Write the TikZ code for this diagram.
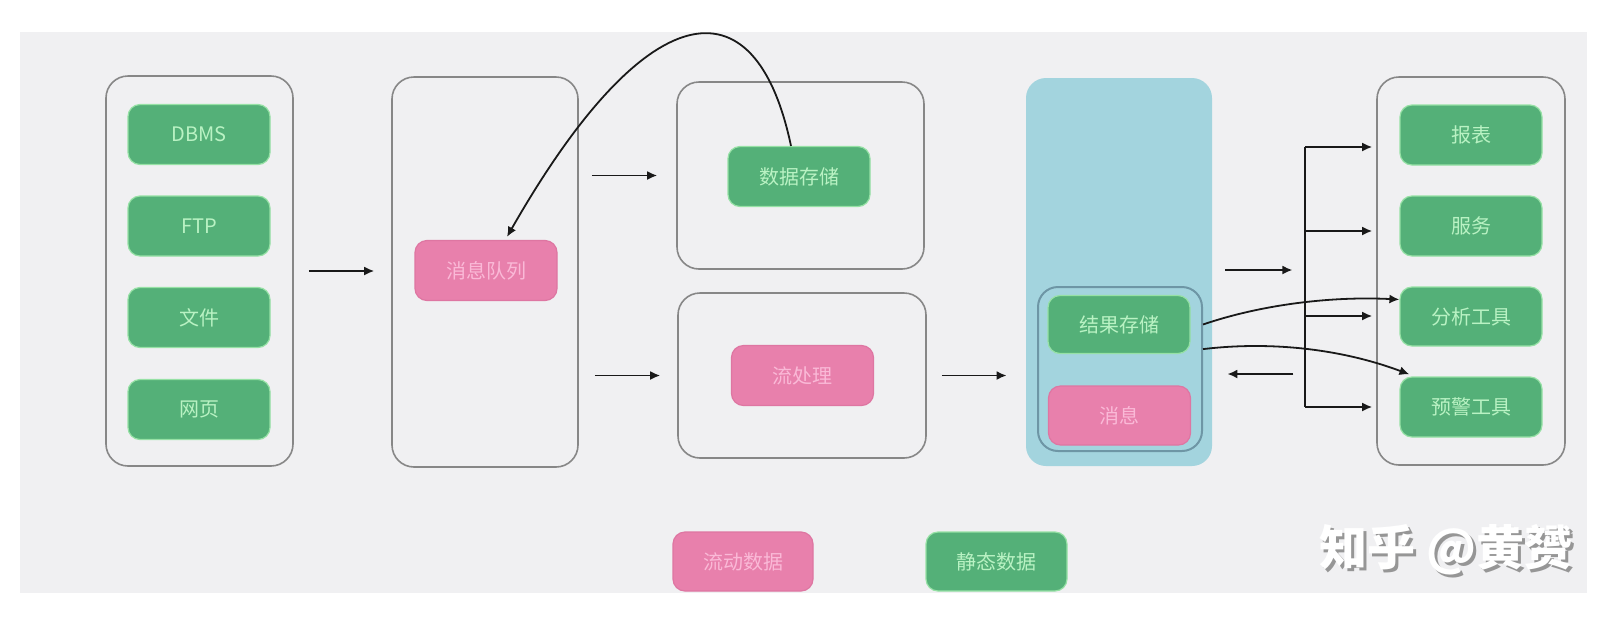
\documentclass[tikz,border=0pt]{standalone}
\usepackage{fontspec}
\setmainfont{Noto Sans CJK SC}
\usetikzlibrary{arrows.meta,calc}
\definecolor{bggray}{RGB}{240,240,242}
\definecolor{gfill}{RGB}{84,176,120}
\definecolor{gedge}{RGB}{150,225,165}
\definecolor{gtext}{RGB}{185,242,195}
\definecolor{pfill}{RGB}{232,128,172}
\definecolor{pedge}{RGB}{222,118,162}
\definecolor{ptext}{RGB}{250,185,215}
\definecolor{teal}{RGB}{163,212,222}
\definecolor{inedge}{RGB}{110,150,165}
\definecolor{cedge}{RGB}{135,135,135}
\definecolor{arrcol}{RGB}{25,25,25}
\definecolor{wmshadow}{RGB}{150,150,150}
\tikzset{
  cont/.style={draw=cedge, line width=0.8pt, rounded corners=11pt, inner sep=0pt},
  gbox/.style={fill=gfill, draw=gedge, line width=0.6pt, rounded corners=6pt,
    minimum width=71pt, minimum height=30pt, inner sep=0pt, text=gtext,
    font=\fontsize{10}{12}\selectfont},
  pbox/.style={gbox, fill=pfill, draw=pedge, text=ptext},
  arr/.style={draw=arrcol, line width=0.9pt, -{Latex[length=5pt,width=4.5pt]}},
  bus/.style={draw=arrcol, line width=0.9pt}
}
\begin{document}
\begin{tikzpicture}[x=0.5pt,y=-0.5pt]
\useasboundingbox (0,0) rectangle (1614,617);
\fill[white] (0,0) rectangle (1614,617);
\fill[bggray] (20,32) rectangle (1587,593);

% containers
\node[cont, minimum width=93.5pt, minimum height=195pt] (L) at (199.5,271) {};
\node[cont, minimum width=93pt, minimum height=195pt] (M) at (485,272) {};
\node[cont, minimum width=123.5pt, minimum height=93.5pt] (U) at (800.5,175.5) {};
\node[cont, minimum width=124pt, minimum height=82.5pt] (D) at (802,375.5) {};
\node[fill=teal, rounded corners=10pt, minimum width=93pt, minimum height=194pt, inner sep=0pt] (T) at (1119,272) {};
\node[draw=inedge, line width=1pt, rounded corners=10pt, minimum width=82pt, minimum height=82pt, inner sep=0pt] (I) at (1120,369) {};
\node[cont, minimum width=94pt, minimum height=194pt] (R) at (1471,271) {};

% sources
\node[gbox] (dbms) at (199,134.5) {DBMS};
\node[gbox] (ftp) at (199,226) {FTP};
\node[gbox] (file) at (199,317.5) {文件};
\node[gbox] (web) at (199,409.5) {网页};

% middle
\node[pbox] (mq) at (486,270.5) {消息队列};
\node[gbox] (ds) at (799,176.5) {数据存储};
\node[pbox] (sp) at (802.5,375.5) {流处理};
\node[gbox, minimum height=29pt] (res) at (1119,324.5) {结果存储};
\node[pbox, minimum height=29.5pt] (msg) at (1119.5,415.5) {消息};

% consumers
\node[gbox] (rep) at (1471,135) {报表};
\node[gbox] (svc) at (1471,226) {服务};
\node[gbox, minimum height=29.5pt] (ana) at (1471,316.5) {分析工具};
\node[gbox] (warn) at (1471,407) {预警工具};

% legend
\node[pbox, minimum width=70pt, minimum height=29.5pt] (lgp) at (743,561.5) {流动数据};
\node[gbox, minimum width=70.5pt, minimum height=29.5pt] (lgg) at (996.5,561.5) {静态数据};

% straight arrows
\draw[arr] ($(L.east)+(15,0)$) -- ($(M.west)+(-17,-1)$);
\draw[arr] ($(M.east |- U.west)+(13,0)$) -- ($(U.west)+(-19,0)$);
\draw[arr] ($(M.east |- D.west)+(16,0)$) -- ($(D.west)+(-17,0)$);
\draw[arr] ($(D.east)+(15,0)$) -- ($(T.west |- D.east)+(-19,0)$);
\draw[arr] ($(T.east)+(13,-2)$) -- ($(T.east)+(80,-2)$);
\draw[arr] ($(T.east)+(81,102)$) -- ($(T.east)+(15,102)$);

% bus to consumers
\coordinate (b1) at (1305,147);
\coordinate (b2) at (1305,231);
\coordinate (b3) at (1305,316);
\coordinate (b4) at (1305,407);
\draw[bus] (b1) -- (b4);
\draw[arr] (b1) -- ($(R.west |- b1)+(-4,0)$);
\draw[arr] (b2) -- ($(R.west |- b2)+(-4,0)$);
\draw[arr] (b3) -- ($(R.west |- b3)+(-4,0)$);
\draw[arr] (b4) -- ($(R.west |- b4)+(-4,0)$);

% curved arrows
\draw[arr] ($(I.east |- res.center)$) .. controls (1260,305) and (1330,296) .. ($(ana.west)+(0,-17)$);
\draw[arr] ($(I.east |- res.south)+(0,-5)$) .. controls (1280,340) and (1350,352) .. ($(warn.north west)+(10,-2)$);
\draw[arr] ($(ds.north)+(-8,0)$) .. controls (755,-25) and (645,-5) .. ($(mq.north)+(21,-3)$);

% watermark
\node[font=\bfseries\fontsize{24}{24}\selectfont, text=wmshadow] (wms) at (1449,553) {知乎 @黄赟};
\node[font=\bfseries\fontsize{24}{24}\selectfont, text=white] (wm) at (1446,550) {知乎 @黄赟};
\end{tikzpicture}
\end{document}
